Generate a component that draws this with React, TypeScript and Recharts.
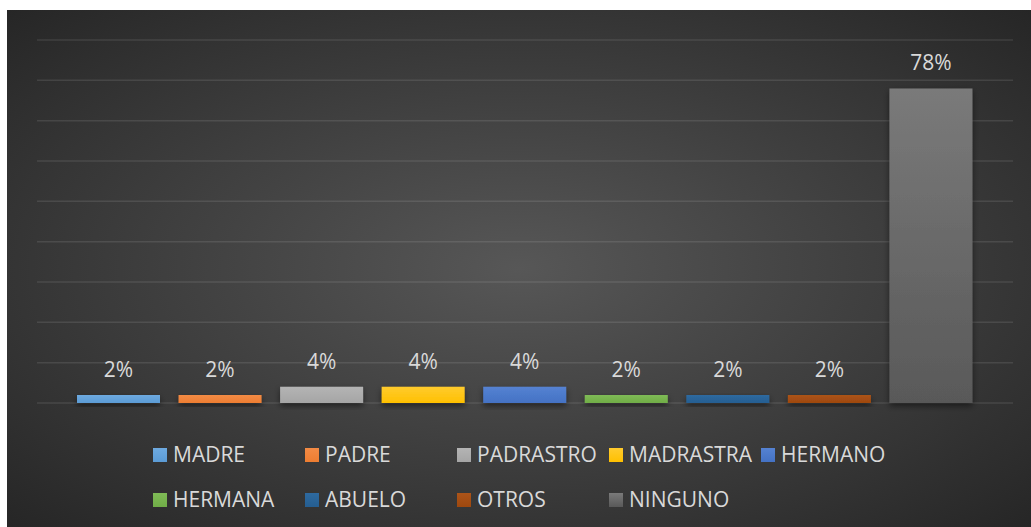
import { BarChart, Bar, XAxis, YAxis, CartesianGrid, Cell, LabelList } from "recharts";

const categories = ["MADRE", "PADRE", "PADRASTRO", "MADRASTRA", "HERMANO", "HERMANA", "ABUELO", "OTROS", "NINGUNO"];
const values = [2, 2, 4, 4, 4, 2, 2, 2, 78];
const yTicks = [0, 10, 20, 30, 40, 50, 60, 70, 80, 90];

const topColors = ["#6eaae0", "#f38b45", "#b4b4b4", "#ffcb2e", "#5582d2", "#7fbb56", "#2e6aa0", "#ac5419", "#7a7a7a"];
const baseColors = ["#5b9bd5", "#ed7d31", "#a5a5a5", "#ffc000", "#4472c4", "#70ad47", "#255e91", "#9e480e", "#595959"];

const data = categories.map((name, i) => ({ name, value: values[i] }));

const font = "'Open Sans', 'Noto Sans', sans-serif";

export default function App() {
  return (
    <div style={{ position: "fixed", left: 0, top: 0, width: 1031, height: 527, background: "#fff", overflow: "hidden" }}>
      <div
        style={{
          position: "absolute", left: 7, top: 10, width: 1024, height: 517,
          background: "radial-gradient(ellipse at 50% 50%, #575757 0%, #262626 100%)",
        }}
      />
      <div style={{ position: "absolute", left: 0, top: 0 }}>
        <BarChart width={1031} height={527} data={data} margin={{ top: 40, right: 18, bottom: 124, left: 37 }}>
          <defs>
            {baseColors.map((c, i) => (
              <linearGradient key={i} id={`bar-${i}`} x1="0" y1="0" x2="0" y2="1">
                <stop offset="0%" stopColor={topColors[i]} />
                <stop offset="100%" stopColor={c} />
              </linearGradient>
            ))}
            <filter id="shadow" x="-20%" y="-20%" width="140%" height="160%">
              <feDropShadow dx="0" dy="3" stdDeviation="3" floodColor="#000" floodOpacity="0.5" />
            </filter>
          </defs>
          <CartesianGrid vertical={false} stroke="#ffffff" strokeOpacity={0.1} strokeWidth={1.5} />
          <XAxis dataKey="name" hide padding={{ left: 31, right: 31 }} />
          <YAxis hide domain={[0, 90]} ticks={yTicks} />
          <Bar dataKey="value" barSize={83} isAnimationActive={false} filter="url(#shadow)">
            {data.map((d, i) => (
              <Cell key={d.name} fill={`url(#bar-${i})`} />
            ))}
            <LabelList
              dataKey="value"
              position="top"
              offset={18}
              formatter={(v: number) => `${v}%`}
              style={{ fill: "#d9d9d9", fontSize: 21, fontFamily: font }}
            />
          </Bar>
        </BarChart>
      </div>
      {categories.map((name, i) => {
        const col = i < 5 ? i : i - 5;
        const row = i < 5 ? 0 : 1;
        const cy = row === 0 ? 455 : 500;
        return (
          <div
            key={name}
            style={{
              position: "absolute", left: 153 + col * 152, top: cy - 13, height: 25,
              display: "flex", alignItems: "center", whiteSpace: "nowrap",
              fontFamily: font, fontSize: 21, lineHeight: "25px", color: "#d9d9d9",
            }}
          >
            <span
              style={{
                display: "inline-block", width: 14, height: 14, marginRight: 6,
                background: `linear-gradient(${topColors[i]}, ${baseColors[i]})`,
              }}
            />
            {name}
          </div>
        );
      })}
    </div>
  );
}
